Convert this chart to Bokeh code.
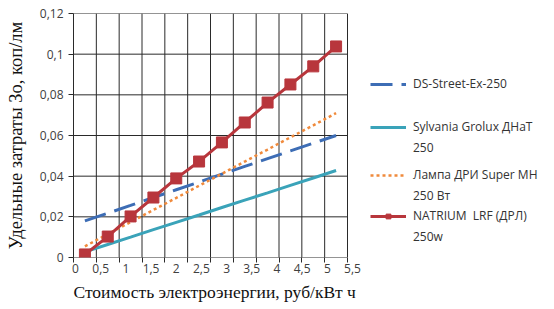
from bokeh.plotting import figure
from bokeh.models import Range1d, FixedTicker, LinearAxis, Legend, LegendItem, Title
from bokeh.embed import file_html
from bokeh.resources import INLINE

# ---- data ----
x_vals = [0, 0.5, 1, 1.5, 2, 2.5, 3, 3.5, 4, 4.5, 5, 5.5]
x_labels = ["0", "0,5", "1", "1,5", "2", "2,5", "3", "3,5", "4", "4,5", "5", "5,5"]
ds_street = [0.018, 0.0218, 0.0256, 0.0295, 0.0333, 0.0371, 0.041, 0.0448, 0.0486, 0.0524, 0.0562, 0.060]
sylvania = [0.0028, 0.0064, 0.010, 0.0137, 0.0173, 0.0209, 0.0246, 0.0282, 0.0318, 0.0355, 0.0391, 0.0428]
lampa_dri = [0.0055, 0.0115, 0.0174, 0.0234, 0.0293, 0.0353, 0.0412, 0.0472, 0.0531, 0.0591, 0.065, 0.071]
natrium = [0.0015, 0.0103, 0.0202, 0.0295, 0.0389, 0.0472, 0.0566, 0.0664, 0.0762, 0.0851, 0.094, 0.1038]
y_ticks = [0, 0.02, 0.04, 0.06, 0.08, 0.1, 0.12]
y_labels = ["0", "0,02", "0,04", "0,06", "0,08", "0,1", "0,12"]
series_names = [["DS-Street-Ex-250"], ["Sylvania Grolux ДНаТ", "250"],
                ["Лампа ДРИ Super MH", "250 Вт"], ["NATRIUM  LRF (ДРЛ)", "250w"]]
x_title = "Стоимость электроэнергии, руб/кВт ч"
y_title = "Удельные затраты Зо, коп/лм"

# ---- layout (pixels) ----
W, H = 554, 309
LEFT, TOP = 73, 13          # plot-area corner
PW, PH = 274, 244           # plot-area size
RIGHT_PAD = 8
FW = W - LEFT - RIGHT_PAD   # frame is widened so the legend can sit inside it
BOTTOM = H - TOP - PH

# category boundaries (Excel line chart: points centred between tick marks)
half = (x_vals[1] - x_vals[0]) / 2
bounds = [v - half for v in x_vals] + [x_vals[-1] + half]
span = bounds[-1] - bounds[0]
x_end = bounds[0] + span * FW / PW

# label scale: labels spread a little wider than the categories, as in the source
ppu = (PW + 3) / (x_vals[-1] - x_vals[0])
lab_start = x_vals[0] - 2 / ppu
lab_end = lab_start + FW / ppu
lab_bounds = [lab_start + ((b - bounds[0]) * PW / span) / ppu for b in bounds]

TICK_FONT = "Open Sans"
TITLE_FONT = "Liberation Serif"
GRID = "#2a2a2a"

p = figure(width=W, height=H,
           x_range=Range1d(bounds[0], x_end), y_range=Range1d(y_ticks[0], y_ticks[-1]),
           output_backend="svg", toolbar_location=None,
           min_border_left=LEFT, min_border_right=RIGHT_PAD, min_border_top=TOP,
           min_border_bottom=BOTTOM,
           background_fill_color="white", border_fill_color="white")
p.extra_x_ranges = {"lab": Range1d(lab_start, lab_end)}
p.outline_line_color = None
p.xaxis.visible = False
p.xgrid.grid_line_color = None
p.ygrid.grid_line_color = None

# grid of the plot area: category boundaries and value ticks
for xb in bounds:
    p.line([xb, xb], [y_ticks[0], y_ticks[-1]], line_color=GRID, line_width=1)
for yv in y_ticks:
    p.line([bounds[0], bounds[-1]], [yv, yv], line_color=GRID, line_width=1)

# x tick labels + tick marks at category boundaries
la = LinearAxis(x_range_name="lab",
                ticker=FixedTicker(ticks=x_vals, minor_ticks=lab_bounds),
                major_label_overrides={v: s for v, s in zip(x_vals, x_labels)},
                axis_line_color=None, major_tick_line_color=None, minor_tick_line_color=GRID,
                major_tick_out=5, major_tick_in=0, minor_tick_out=5, minor_tick_in=0,
                major_label_standoff=1,
                major_label_text_font=TICK_FONT, major_label_text_font_size="12px",
                major_label_text_color="#404040")
p.add_layout(la, "below")
p.add_layout(Title(text=x_title, align="left", offset=0, standoff=8,
                   text_font=TITLE_FONT, text_font_size="17.5px", text_font_style="normal",
                   text_color="#111111"), "below")

ya = p.yaxis[0]
ya.ticker = FixedTicker(ticks=y_ticks)
ya.major_label_overrides = {v: s for v, s in zip(y_ticks, y_labels)}
ya.major_label_text_font = TICK_FONT
ya.major_label_text_font_size = "12px"
ya.major_label_text_color = "#404040"
ya.major_label_standoff = 5
ya.major_tick_out = 5
ya.major_tick_in = 0
ya.minor_tick_out = 0
ya.minor_tick_in = 0
ya.axis_line_color = GRID
ya.major_tick_line_color = GRID
ya.axis_label = y_title
ya.axis_label_text_font = TITLE_FONT
ya.axis_label_text_font_size = "18.5px"
ya.axis_label_text_font_style = "normal"
ya.axis_label_text_color = "#111111"
ya.axis_label_standoff = 11

BLUE = "#3d6db5"
TEAL = "#3aa3b9"
ORANGE = "#f08a3c"
RED = "#b8363c"

r1 = p.line(x_vals, ds_street, line_color=BLUE, line_width=3, line_dash="22 9")
r2 = p.line(x_vals, sylvania, line_color=TEAL, line_width=3)
r3 = p.line(x_vals, lampa_dri, line_color=ORANGE, line_width=2.5, line_dash="3 3")
r4 = p.line(x_vals, natrium, line_color=RED, line_width=3)
r4m = p.scatter(x_vals, natrium, marker="square", size=11, fill_color=RED, line_color=RED)
blank = p.line([], [], line_alpha=0)   # glyph-less second lines of legend labels

renders = [[r1], [r2], [r3], [r4, r4m]]
locs = [(297, 165), (297, 101), (297, 53), (297, 12)]
for lines, rs, loc in zip(series_names, renders, locs):
    items = [LegendItem(label=lines[0], renderers=rs)]
    items += [LegendItem(label=t, renderers=[blank]) for t in lines[1:]]
    lg = Legend(items=items, location=loc,
                padding=0, margin=0, spacing=4, border_line_color=None,
                background_fill_alpha=0, glyph_width=36, glyph_height=12,
                label_standoff=7, label_text_font=TICK_FONT, label_height=12,
                label_text_font_size="12px", label_text_color="#333333")
    p.add_layout(lg, "center")

open("out.html", "w").write(file_html(p, INLINE))
